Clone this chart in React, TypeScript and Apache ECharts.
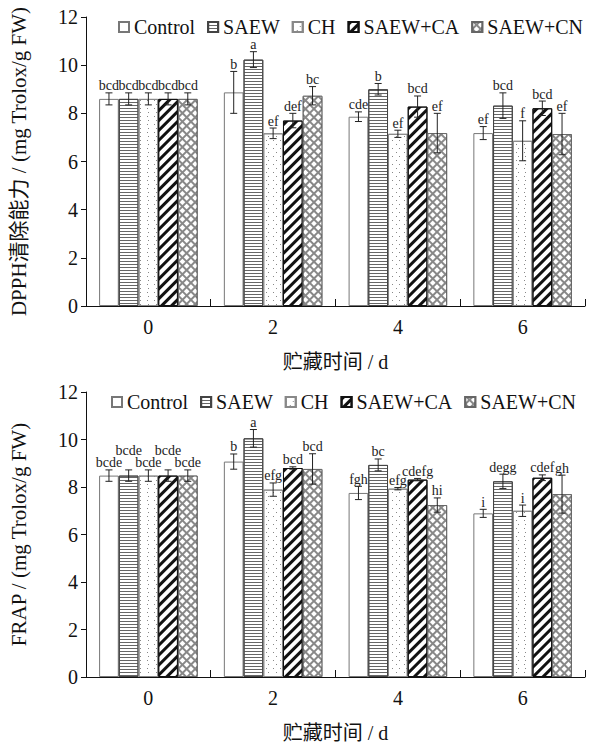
import React, { useEffect, useRef } from "react";
import * as echarts from "echarts";

const days = ["0", "2", "4", "6"];
const groups = ["Control", "SAEW", "CH", "SAEW+CA", "SAEW+CN"];

// DPPH (top panel)
const dpphControl = [8.6, 8.87, 7.86, 7.18];
const dpphSAEW = [8.6, 10.23, 9.0, 8.32];
const dpphCH = [8.6, 7.17, 7.15, 6.86];
const dpphCA = [8.6, 7.7, 8.28, 8.21];
const dpphCN = [8.6, 8.73, 7.18, 7.14];
const dpphErrControl = [0.25, 0.87, 0.2, 0.27];
const dpphErrSAEW = [0.25, 0.33, 0.24, 0.53];
const dpphErrCH = [0.25, 0.22, 0.15, 0.83];
const dpphErrCA = [0.25, 0.3, 0.44, 0.3];
const dpphErrCN = [0.25, 0.38, 0.82, 0.86];
const dpphLblControl = ["bcd", "b", "cde", "ef"];
const dpphLblSAEW = ["bcd", "a", "b", "bcd"];
const dpphLblCH = ["bcd", "ef", "ef", "f"];
const dpphLblCA = ["bcd", "def", "bcd", "bcd"];
const dpphLblCN = ["bcd", "bc", "ef", "ef"];

// FRAP (bottom panel)
const frapControl = [8.48, 9.07, 7.75, 6.89];
const frapSAEW = [8.48, 10.05, 8.93, 8.24];
const frapCH = [8.48, 7.89, 7.93, 7.0];
const frapCA = [8.48, 8.8, 8.31, 8.39];
const frapCN = [8.48, 8.76, 7.24, 7.7];
const frapErrControl = [0.24, 0.32, 0.28, 0.17];
const frapErrSAEW = [0.24, 0.37, 0.25, 0.3];
const frapErrCH = [0.24, 0.28, 0.05, 0.24];
const frapErrCA = [0.24, 0.05, 0.05, 0.12];
const frapErrCN = [0.24, 0.64, 0.3, 0.8];
const frapLblControl = ["bcde", "b", "fgh", "i"];
const frapLblSAEW = ["bcde", "a", "bc", "degg"];
const frapLblCH = ["bcde", "efg", "efg", "i"];
const frapLblCA = ["bcde", "bcd", "cdefg", "cdef"];
const frapLblCN = ["bcde", "bcd", "hi", "gh"];

const yTicks = { min: 0, max: 12, interval: 2 };

const FONT = '"Liberation Serif", "Times New Roman", "Noto Sans CJK SC", serif';

const BAR_GAP_FRAC = 0.21;

const styles = [
  { color: "#ffffff", borderColor: "#777", decal: null },
  {
    color: "#ffffff",
    borderColor: "#444",
    decal: { symbol: "rect", symbolSize: 1, dashArrayX: [1, 0], dashArrayY: [1, 2], rotation: 0, color: "#666" },
  },
  {
    color: "#ffffff",
    borderColor: "#888",
    decal: {
      symbol: "rect",
      symbolSize: 1,
      dashArrayX: [[1, 6], [0, 3.5, 1, 2.5]],
      dashArrayY: [1, 3],
      rotation: 0,
      color: "#888",
    },
  },
  {
    color: "#ffffff",
    borderColor: "#111",
    decal: { symbol: "rect", symbolSize: 1, dashArrayX: [1, 0], dashArrayY: [2.2, 3.6], rotation: -Math.PI / 4, color: "#111" },
  },
  {
    color: "#888",
    borderColor: "#666",
    decal: { symbol: "rect", symbolSize: 1, dashArrayX: [3.2, 1.1], dashArrayY: [3.2, 1.1], rotation: Math.PI / 4, color: "#ffffff" },
  },
];

function buildPanel(
  idx: number,
  values: number[][],
  errors: number[][],
  labels: string[][],
  raised: number[][]
) {
  const series: any[] = [];
  values.forEach((vals, s) => {
    const st = styles[s];
    const itemStyle: any = { color: st.color, borderColor: st.borderColor, borderWidth: 1 };
    if (st.decal) itemStyle.decal = st.decal;
    series.push({
      type: "bar",
      name: groups[s],
      xAxisIndex: idx,
      yAxisIndex: idx,
      data: vals,
      barGap: "0%",
      barCategoryGap: BAR_GAP_FRAC * 100 + "%",
      itemStyle,
      emphasis: { disabled: true },
    });
  });
  values.forEach((vals, s) => {
    const errs = errors[s];
    const lbls = labels[s];
    series.push({
      type: "custom",
      xAxisIndex: idx,
      yAxisIndex: idx,
      z: 10,
      silent: true,
      data: vals.map((v, i) => [i, v, errs[i]]),
      renderItem: (params: any, api: any) => {
        const i = api.value(0);
        const v = api.value(1);
        const e = api.value(2);
        const bw = (api.size([1, 0])[0] * (1 - BAR_GAP_FRAC)) / values.length;
        const off = (s - (values.length - 1) / 2) * bw;
        const top = api.coord([i, v + e]);
        const bot = api.coord([i, v - e]);
        const x = top[0] + off;
        const cap = 3.5;
        const isRaised = raised.some((r) => r[0] === s && r[1] === params.dataIndex);
        const lineStyle = { stroke: "#222", lineWidth: 1 };
        return {
          type: "group",
          children: [
            { type: "line", shape: { x1: x, y1: top[1], x2: x, y2: bot[1] }, style: lineStyle },
            { type: "line", shape: { x1: x - cap, y1: top[1], x2: x + cap, y2: top[1] }, style: lineStyle },
            { type: "line", shape: { x1: x - cap, y1: bot[1], x2: x + cap, y2: bot[1] }, style: lineStyle },
            {
              type: "text",
              x: x,
              y: top[1] - (isRaised ? 12 : 0),
              style: {
                text: lbls[params.dataIndex],
                fill: "#222",
                font: '14px "Liberation Serif", serif',
                align: "center",
                verticalAlign: "bottom",
              },
            },
          ],
        };
      },
    });
  });
  return series;
}

export default function App() {
  const ref = useRef<HTMLDivElement>(null);
  useEffect(() => {
    if (!ref.current) return;
    const chart = echarts.init(ref.current, null, { renderer: "svg" });
    const top = buildPanel(
      0,
      [dpphControl, dpphSAEW, dpphCH, dpphCA, dpphCN],
      [dpphErrControl, dpphErrSAEW, dpphErrCH, dpphErrCA, dpphErrCN],
      [dpphLblControl, dpphLblSAEW, dpphLblCH, dpphLblCA, dpphLblCN],
      []
    );
    const bottom = buildPanel(
      1,
      [frapControl, frapSAEW, frapCH, frapCA, frapCN],
      [frapErrControl, frapErrSAEW, frapErrCH, frapErrCA, frapErrCN],
      [frapLblControl, frapLblSAEW, frapLblCH, frapLblCA, frapLblCN],
      [
        [1, 0],
        [3, 0],
      ]
    );
    const legendCommon = {
      data: groups,
      icon: "rect",
      itemWidth: 10,
      itemHeight: 10,
      itemGap: 12,
      selectedMode: false,
      textStyle: { fontFamily: FONT, fontSize: 20, color: "#111" },
    };
    const xAxisCommon = {
      type: "category",
      data: days,
      name: "贮藏时间 / d",
      nameLocation: "middle",
      nameGap: 46,
      nameTextStyle: { fontFamily: FONT, fontSize: 20, color: "#111" },
      axisLine: { lineStyle: { color: "#111", width: 1 } },
      axisTick: { show: true, inside: true, length: 7, alignWithLabel: false, lineStyle: { color: "#111" } },
      axisLabel: { fontFamily: FONT, fontSize: 20, color: "#111", margin: 11 },
    };
    const yAxisCommon = {
      type: "value",
      ...yTicks,
      nameLocation: "middle",
      nameGap: 57,
      nameRotate: 90,
      nameTextStyle: { fontFamily: FONT, fontSize: 21, color: "#111" },
      axisLine: { show: true, lineStyle: { color: "#111", width: 1 } },
      axisTick: { show: true, inside: false, length: 5, lineStyle: { color: "#111" } },
      axisLabel: { fontFamily: FONT, fontSize: 20, color: "#111", margin: 8 },
      splitLine: { show: false },
    };
    chart.setOption({
      animation: false,
      backgroundColor: "#ffffff",
      textStyle: { fontFamily: FONT },
      legend: [
        { ...legendCommon, left: 113, top: 12 },
        { ...legendCommon, left: 106, top: 387 },
      ],
      grid: [
        { left: 80, right: 5, top: 17, height: 289 },
        { left: 80, right: 5, top: 392, height: 289 },
      ],
      xAxis: [
        { ...xAxisCommon, gridIndex: 0 },
        { ...xAxisCommon, gridIndex: 1 },
      ],
      yAxis: [
        { ...yAxisCommon, gridIndex: 0, name: "DPPH清除能力 / (mg Trolox/g FW)" },
        { ...yAxisCommon, gridIndex: 1, name: "FRAP / (mg Trolox/g FW)" },
      ],
      series: [...top, ...bottom],
    });
    return () => chart.dispose();
  }, []);
  return <div ref={ref} style={{ width: 590, height: 744, position: "absolute", left: 0, top: 0 }} />;
}
